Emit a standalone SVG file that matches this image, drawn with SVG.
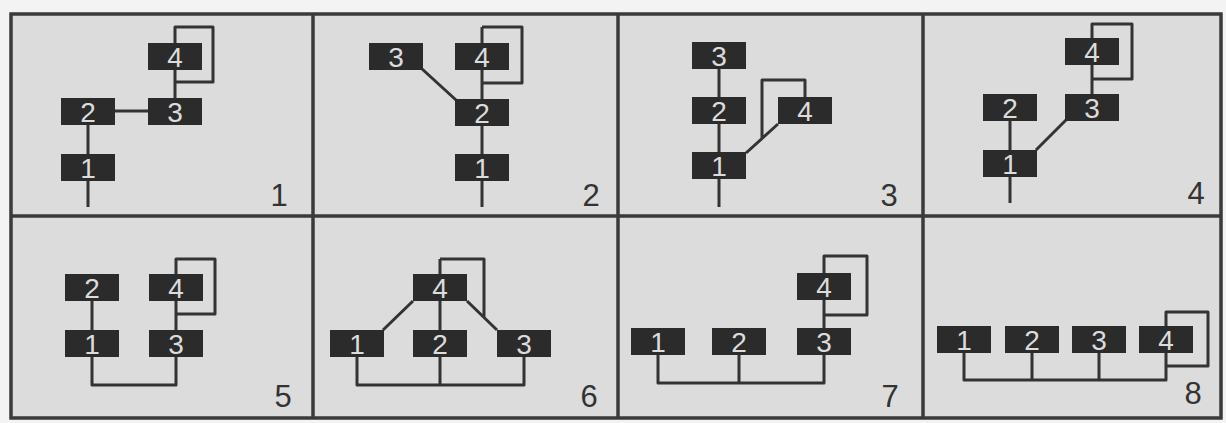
<svg xmlns="http://www.w3.org/2000/svg" width="1226" height="423" viewBox="0 0 1226 423">
<style>
.bx{fill:#2b2b2b}
.lb{font-family:"Liberation Sans",Arial,sans-serif;font-size:28px;fill:#dcdcdc;text-anchor:middle}
.pn{font-family:"Liberation Sans",Arial,sans-serif;font-size:31px;fill:#333;text-anchor:middle}
.ln{stroke:#333;stroke-width:3;fill:none;stroke-linejoin:round}
.fr{stroke:#3a3a3a;stroke-width:3.5;fill:none}
</style>
<rect width="1226" height="423" fill="#f3f3f3"/>
<rect x="11" y="14" width="1210" height="404" fill="#dcdcdc"/>
<g id="frame" class="fr">
<rect x="11" y="14" width="1210" height="404"/>
<path d="M313 14V418M618 14V418M923 14V418M11 216H1221"/>
</g>
<g id="panel-numbers" class="pn">
<text x="279" y="206">1</text>
<text x="591" y="206">2</text>
<text x="889" y="206">3</text>
<text x="1196" y="204">4</text>
<text x="283" y="407">5</text>
<text x="589" y="407">6</text>
<text x="890" y="407">7</text>
<text x="1193" y="404">8</text>
</g>
<g id="connectors" class="ln">
<path d="M88 111V207M115 111H148M175 111V27H213V82H175"/>
<path d="M482 27V207M482 27H522V83H482M421 68L456 100"/>
<path d="M719 55V207M746 153L778 124M805 110V80H762V138"/>
<path d="M1010 107V203M1092 107V24H1132V79H1092M1036 150L1066 120"/>
<path d="M92 287V385H176V259H215V314H176"/>
<path d="M440 259V385M440 259H484V317M357 343V385H524V343M413 301L383 330M467 301L497 330"/>
<path d="M658 341V383H824V256H867V315H824M739 341V383"/>
<path d="M964 339V380H1166V312H1208V366H1166M1032 339V380M1099 339V380"/>
</g>
<g id="p1-n4"><rect class="bx" x="148" y="43" width="54" height="27"/><text class="lb" x="175" y="67">4</text></g>
<g id="p1-n2"><rect class="bx" x="61" y="98" width="54" height="27"/><text class="lb" x="88" y="122">2</text></g>
<g id="p1-n3"><rect class="bx" x="148" y="98" width="54" height="27"/><text class="lb" x="175" y="122">3</text></g>
<g id="p1-n1"><rect class="bx" x="61" y="154" width="54" height="27"/><text class="lb" x="88" y="178">1</text></g>
<g id="p2-n3"><rect class="bx" x="369" y="43" width="54" height="27"/><text class="lb" x="396" y="67">3</text></g>
<g id="p2-n4"><rect class="bx" x="455" y="43" width="54" height="27"/><text class="lb" x="482" y="67">4</text></g>
<g id="p2-n2"><rect class="bx" x="455" y="99" width="54" height="27"/><text class="lb" x="482" y="123">2</text></g>
<g id="p2-n1"><rect class="bx" x="455" y="154" width="54" height="27"/><text class="lb" x="482" y="178">1</text></g>
<g id="p3-n3"><rect class="bx" x="692" y="42" width="54" height="27"/><text class="lb" x="719" y="66">3</text></g>
<g id="p3-n2"><rect class="bx" x="692" y="97" width="54" height="27"/><text class="lb" x="719" y="121">2</text></g>
<g id="p3-n1"><rect class="bx" x="692" y="152" width="54" height="27"/><text class="lb" x="719" y="176">1</text></g>
<g id="p3-n4"><rect class="bx" x="778" y="97" width="54" height="27"/><text class="lb" x="805" y="121">4</text></g>
<g id="p4-n4"><rect class="bx" x="1065" y="38" width="54" height="27"/><text class="lb" x="1092" y="62">4</text></g>
<g id="p4-n2"><rect class="bx" x="983" y="94" width="54" height="27"/><text class="lb" x="1010" y="118">2</text></g>
<g id="p4-n3"><rect class="bx" x="1065" y="94" width="54" height="27"/><text class="lb" x="1092" y="118">3</text></g>
<g id="p4-n1"><rect class="bx" x="983" y="150" width="54" height="27"/><text class="lb" x="1010" y="174">1</text></g>
<g id="p5-n2"><rect class="bx" x="65" y="274" width="54" height="27"/><text class="lb" x="92" y="298">2</text></g>
<g id="p5-n4"><rect class="bx" x="149" y="274" width="54" height="27"/><text class="lb" x="176" y="298">4</text></g>
<g id="p5-n1"><rect class="bx" x="65" y="330" width="54" height="27"/><text class="lb" x="92" y="354">1</text></g>
<g id="p5-n3"><rect class="bx" x="149" y="330" width="54" height="27"/><text class="lb" x="176" y="354">3</text></g>
<g id="p6-n4"><rect class="bx" x="413" y="274" width="54" height="27"/><text class="lb" x="440" y="298">4</text></g>
<g id="p6-n1"><rect class="bx" x="330" y="330" width="54" height="27"/><text class="lb" x="357" y="354">1</text></g>
<g id="p6-n2"><rect class="bx" x="413" y="330" width="54" height="27"/><text class="lb" x="440" y="354">2</text></g>
<g id="p6-n3"><rect class="bx" x="497" y="330" width="54" height="27"/><text class="lb" x="524" y="354">3</text></g>
<g id="p7-n4"><rect class="bx" x="797" y="273" width="54" height="27"/><text class="lb" x="824" y="297">4</text></g>
<g id="p7-n1"><rect class="bx" x="631" y="328" width="54" height="27"/><text class="lb" x="658" y="352">1</text></g>
<g id="p7-n2"><rect class="bx" x="712" y="328" width="54" height="27"/><text class="lb" x="739" y="352">2</text></g>
<g id="p7-n3"><rect class="bx" x="797" y="328" width="54" height="27"/><text class="lb" x="824" y="352">3</text></g>
<g id="p8-n1"><rect class="bx" x="937" y="326" width="54" height="27"/><text class="lb" x="964" y="350">1</text></g>
<g id="p8-n2"><rect class="bx" x="1005" y="326" width="54" height="27"/><text class="lb" x="1032" y="350">2</text></g>
<g id="p8-n3"><rect class="bx" x="1072" y="326" width="54" height="27"/><text class="lb" x="1099" y="350">3</text></g>
<g id="p8-n4"><rect class="bx" x="1139" y="326" width="54" height="27"/><text class="lb" x="1166" y="350">4</text></g>
</svg>
